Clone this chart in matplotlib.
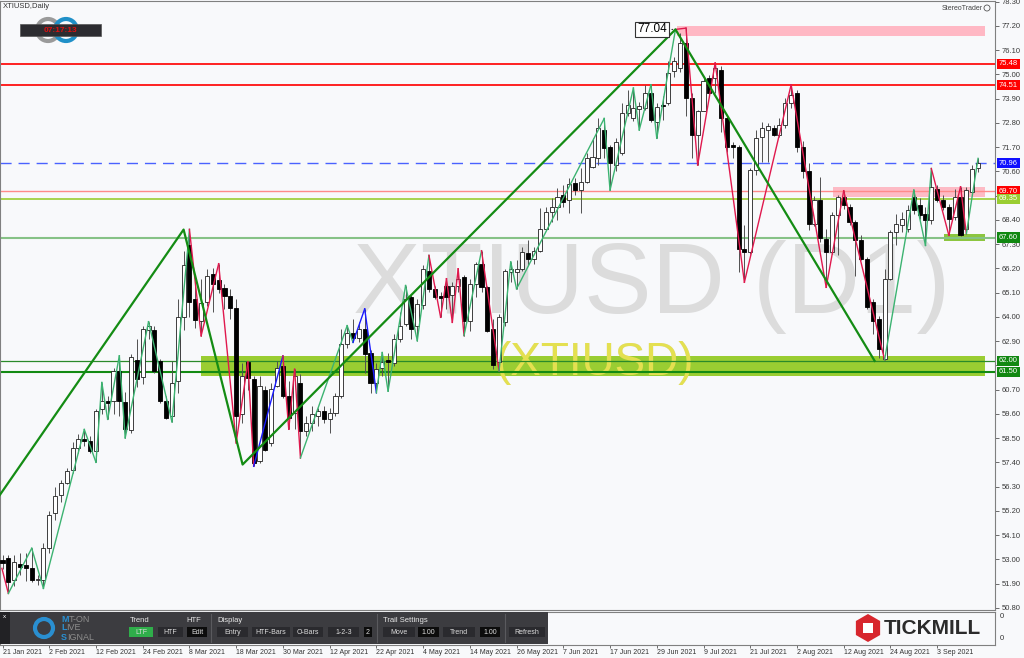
import numpy as np
import matplotlib.pyplot as plt
from matplotlib.patches import Rectangle, Circle, RegularPolygon

# daily OHLC, XTIUSD, 21 Jan 2021 .. mid Sep 2021
opens = [52.95, 53.05, 52.06, 52.80, 52.74, 52.59, 52.06, 52.06, 53.50, 55.10,
         55.93, 56.46, 57.07, 58.06, 58.44, 58.36, 57.90, 59.80, 60.20, 60.20,
         61.55, 60.14, 58.86, 62.05, 61.25, 63.40, 63.40, 62.00, 60.18, 59.50,
         61.10, 63.98, 67.24, 64.80, 63.82, 64.66, 65.95, 65.65, 65.30, 64.96,
         64.40, 59.57, 61.96, 61.17, 57.45, 60.70, 58.28, 60.86, 61.77, 60.40,
         59.65, 60.98, 58.81, 59.19, 59.50, 59.72, 59.35, 59.65, 60.40, 62.76,
         63.29, 63.06, 63.44, 62.38, 61.00, 61.70, 62.05, 61.92, 63.00, 63.68,
         64.90, 63.60, 64.52, 66.10, 65.27, 64.95, 65.42, 64.97, 65.42, 65.80,
         63.83, 65.50, 66.41, 65.35, 63.45, 61.93, 63.75, 66.05, 66.05, 66.19,
         66.91, 66.64, 66.97, 68.00, 68.76, 68.99, 69.52, 69.30, 70.06, 69.75,
         70.13, 70.80, 71.20, 72.49, 71.72, 70.89, 71.42, 73.24, 73.02, 73.45,
         73.48, 74.15, 72.86, 73.62, 73.70, 75.15, 75.29, 76.43, 73.93, 72.26,
         73.32, 74.84, 74.84, 75.22, 73.02, 71.80, 71.72, 67.09, 66.94, 70.66,
         72.18, 72.50, 72.56, 72.26, 72.71, 73.70, 74.15, 71.72, 70.60, 68.23,
         69.30, 67.54, 66.94, 68.60, 69.44, 68.99, 68.30, 67.47, 66.63, 64.66,
         63.90, 62.08, 65.72, 67.85, 68.15, 68.00, 69.44, 69.06, 68.68, 68.38,
         69.82, 69.29, 68.99, 68.53, 69.44, 68.00, 69.67, 70.75]
highs = [53.20, 53.20, 53.20, 53.30, 53.30, 53.50, 52.30, 53.73, 55.20, 56.30,
         56.60, 57.15, 58.30, 58.67, 58.89, 58.60, 59.83, 61.02, 60.40, 61.70,
         62.23, 60.60, 62.30, 63.00, 63.60, 63.78, 63.60, 62.10, 60.40, 62.00,
         64.80, 67.00, 67.97, 65.50, 65.70, 66.18, 66.20, 66.41, 65.50, 65.27,
         64.80, 61.90, 61.96, 61.30, 61.30, 60.86, 61.00, 62.00, 62.23, 61.10,
         61.62, 61.40, 59.50, 59.95, 59.87, 59.95, 59.87, 60.56, 63.44, 63.60,
         63.90, 63.75, 64.36, 62.50, 61.92, 62.38, 62.38, 63.20, 64.20, 65.42,
         64.97, 64.82, 66.34, 66.79, 65.42, 65.12, 65.73, 65.57, 66.18, 65.88,
         65.73, 66.49, 67.00, 65.40, 63.90, 64.14, 66.19, 66.49, 66.56, 67.17,
         67.47, 67.17, 68.92, 68.99, 69.37, 69.83, 69.98, 70.28, 70.28, 70.74,
         71.42, 72.10, 73.00, 73.00, 71.80, 72.10, 73.70, 74.30, 74.38, 73.77,
         74.53, 74.53, 73.70, 74.00, 75.60, 75.80, 76.90, 77.10, 74.15, 73.40,
         74.84, 74.99, 75.52, 75.37, 73.17, 71.95, 71.80, 68.15, 70.74, 72.48,
         72.86, 72.79, 72.71, 73.02, 73.93, 74.53, 74.30, 72.00, 71.00, 69.50,
         70.35, 68.00, 68.75, 69.52, 69.72, 69.14, 68.38, 67.70, 66.70, 64.81,
         64.05, 66.18, 67.93, 68.68, 68.76, 69.06, 69.75, 69.37, 68.99, 70.73,
         69.98, 69.52, 69.14, 69.82, 69.90, 69.90, 70.88, 71.19]
lows = [52.55, 51.45, 51.80, 52.30, 52.00, 51.95, 51.83, 51.68, 53.30, 54.80,
        55.60, 56.40, 56.90, 57.83, 58.13, 57.83, 57.40, 59.60, 59.35, 59.58,
        59.50, 58.51, 58.75, 60.80, 60.95, 63.00, 61.47, 60.10, 59.35, 59.24,
        60.56, 63.40, 64.00, 63.50, 63.14, 64.50, 64.20, 65.10, 64.35, 63.90,
        58.28, 59.20, 60.70, 57.22, 57.37, 57.90, 58.13, 60.80, 60.30, 58.90,
        58.90, 57.60, 58.60, 58.80, 59.04, 59.20, 58.74, 59.50, 60.33, 62.60,
        62.84, 62.84, 61.47, 60.56, 60.56, 61.32, 60.63, 61.77, 62.84, 63.60,
        63.00, 62.92, 64.36, 65.12, 64.82, 63.98, 64.36, 63.75, 65.12, 63.15,
        63.37, 64.90, 65.12, 63.30, 61.63, 61.55, 63.60, 65.57, 65.27, 66.10,
        66.34, 66.40, 66.94, 67.93, 68.30, 68.38, 68.99, 68.69, 69.52, 68.69,
        70.06, 70.74, 70.90, 71.19, 69.75, 70.60, 71.34, 73.10, 72.90, 72.48,
        73.40, 72.86, 72.10, 72.94, 73.62, 74.90, 75.10, 73.10, 71.19, 70.89,
        73.32, 74.07, 74.15, 72.40, 71.49, 71.19, 66.03, 65.57, 66.87, 70.43,
        71.04, 71.04, 72.20, 72.18, 72.56, 73.48, 71.49, 70.30, 67.95, 68.10,
        67.40, 65.34, 66.87, 66.80, 68.90, 68.15, 65.87, 66.56, 64.36, 63.20,
        62.15, 62.05, 65.65, 67.24, 67.85, 67.85, 68.68, 68.46, 67.24, 68.23,
        69.20, 68.83, 67.70, 68.38, 67.65, 67.77, 69.52, 70.58]
closes = [52.85, 51.98, 52.90, 52.67, 52.59, 52.06, 52.12, 53.50, 55.02, 55.85,
          56.46, 56.99, 58.06, 58.44, 58.36, 57.90, 59.73, 60.20, 60.10, 61.55,
          60.20, 58.90, 62.16, 61.20, 63.45, 63.60, 61.55, 60.18, 59.40, 61.00,
          63.98, 66.33, 64.66, 63.85, 64.63, 65.87, 65.50, 65.27, 64.96, 64.39,
          59.50, 61.32, 61.24, 57.37, 60.86, 57.98, 60.71, 61.70, 60.40, 59.42,
          61.32, 58.81, 59.20, 59.57, 59.72, 59.35, 59.65, 60.40, 62.76, 63.29,
          63.06, 63.44, 62.30, 61.00, 61.62, 61.93, 61.95, 62.99, 63.60, 64.82,
          63.45, 64.60, 66.19, 65.27, 64.90, 64.87, 64.90, 65.42, 65.73, 63.83,
          65.50, 66.41, 65.35, 63.37, 61.80, 63.98, 66.10, 66.15, 66.19, 66.95,
          66.64, 66.97, 68.00, 68.76, 68.99, 69.45, 69.22, 70.01, 69.75, 70.13,
          71.20, 71.27, 72.56, 71.65, 70.96, 71.95, 73.24, 73.62, 73.47, 73.55,
          74.15, 72.94, 73.54, 73.55, 75.06, 75.60, 76.43, 73.93, 72.26, 73.32,
          74.68, 74.15, 75.29, 73.02, 71.72, 71.72, 67.09, 66.94, 70.66, 72.10,
          72.56, 72.64, 72.26, 72.71, 73.70, 74.08, 71.72, 70.60, 68.23, 69.29,
          67.60, 66.94, 68.60, 69.44, 69.06, 68.30, 67.47, 66.63, 64.43, 63.82,
          62.53, 65.72, 67.85, 68.23, 68.46, 68.83, 68.83, 68.60, 68.38, 69.90,
          69.29, 68.99, 68.46, 69.44, 67.70, 69.75, 70.73, 70.96]

date_labels = ['21 Jan 2021', '2 Feb 2021', '12 Feb 2021', '24 Feb 2021', '8 Mar 2021',
               '18 Mar 2021', '30 Mar 2021', '12 Apr 2021', '22 Apr 2021', '4 May 2021',
               '14 May 2021', '26 May 2021', '7 Jun 2021', '17 Jun 2021', '29 Jun 2021',
               '9 Jul 2021', '21 Jul 2021', '2 Aug 2021', '12 Aug 2021', '24 Aug 2021',
               '3 Sep 2021']
date_bars = [0, 8, 16, 24, 32, 40, 48, 56, 64, 72, 80, 88, 96, 104, 112,
             120, 128, 136, 144, 152, 160]

price_ticks = [78.30, 77.20, 76.10, 75.00, 73.90, 72.80, 71.70, 70.60, 69.50, 68.40,
               67.30, 66.20, 65.10, 64.00, 62.90, 61.80, 60.70, 59.60, 58.50, 57.40,
               56.30, 55.20, 54.10, 53.00, 51.90, 50.80]

# big (higher timeframe) zigzag
big_zz_bars = [-5, 31, 41.1, 115.2, 149.3]
big_zz_price = [54.18, 67.96, 57.30, 77.04, 62.00]

# small zigzag: bar, price, colour of the leg ending there
zz_bars = [-0.1, 1, 5, 7, 14, 16, 17, 18, 20, 21, 25, 29, 32, 34, 37, 40, 42, 43, 48, 49,
           50, 51, 59, 60, 62, 64, 65, 66, 69, 71, 73, 75, 76, 77, 78, 79, 82, 85, 87, 88,
           103, 104, 108, 109, 111, 112, 115.2, 117, 119, 122, 127, 135, 141, 144, 151, 156,
           158, 159, 162, 164, 165, 167]
zz_price = [52.59, 51.45, 53.50, 51.68, 58.89, 57.40, 61.02, 59.35, 62.23, 58.51, 63.78, 59.24,
            67.97, 63.14, 66.41, 58.28, 61.96, 57.22, 62.23, 58.90, 61.62, 57.60, 63.60, 62.84,
            64.36, 60.56, 62.38, 60.63, 65.42, 62.92, 66.79, 63.98, 65.73, 63.75, 66.18, 63.15,
            67.00, 61.55, 66.49, 65.27, 73.00, 69.75, 74.38, 72.48, 74.53, 72.10, 77.04, 77.10,
            70.89, 75.52, 65.57, 74.53, 65.34, 69.72, 62.05, 69.75, 67.24, 70.73, 67.70, 69.90,
            67.77, 71.19]
zz_legs = ['', 'r', 'g', 'g', 'g', 'g', 'g', 'g', 'g', 'g', 'g', 'g', 'g', 'r', 'r', 'r', 'r', 'r',
           'b', 'r', 'r', 'r', 'g', 'g', 'b', 'b', 'g', 'g', 'g', 'g', 'g', 'r', 'r', 'r', 'r', 'r',
           'g', 'r', 'g', 'g', 'g', 'g', 'g', 'g', 'g', 'g', 'g', 'r', 'r', 'r', 'r', 'r', 'r', 'r',
           'r', 'g', 'g', 'g', 'r', 'r', 'r', 'g']

BG = '#f8f9fb'
W, H = 1024, 658
fig = plt.figure(figsize=(W / 100, H / 100), dpi=100, facecolor=BG)
plt.rcParams['font.family'] = ['Liberation Sans', 'DejaVu Sans']

ax = fig.add_axes([0, 1 - 610 / H, 995 / W, 609 / H], facecolor=BG)
x = np.arange(len(closes))
o = np.array(opens); c = np.array(closes); hi = np.array(highs); lo = np.array(lows)
ax.set_xlim(-0.43, 169.9)
ax.set_ylim(50.70, 78.33)

# watermark
ax.text(0.655, 0.53, 'XTIUSD (D1)', transform=ax.transAxes, fontsize=73, color='#dcdcdc',
        ha='center', va='center', zorder=0)
ax.text(0.597, 0.405, '(XTIUSD)', transform=ax.transAxes, fontsize=33, color='#dcdcdc',
        ha='center', va='center', zorder=0)

# zones
ax.add_patch(Rectangle((115.5, 76.72), 168.2 - 115.5, 0.48, fc='#ffb8c4', ec='none', zorder=1))
ax.add_patch(Rectangle((142.2, 69.45), 168.2 - 142.2, 0.45, fc='#ffb0bc', ec='none', alpha=0.85, zorder=1))
green_zone = Rectangle((34.0, 61.32), 168.2 - 34.0, 0.91, fc='#9acd32', ec='none', zorder=1)
ax.add_patch(green_zone)
ax.add_patch(Rectangle((161.2, 67.45), 168.2 - 161.2, 0.33, fc='#8cc63f', ec='none', zorder=1))
wm = ax.text(0.597, 0.405, '(XTIUSD)', transform=ax.transAxes, fontsize=33, color='#e4e050',
             ha='center', va='center', zorder=1.1)
wm.set_clip_path(green_zone)

# levels
ax.axhline(75.48, color='#ff1010', lw=1.3, zorder=2)
ax.axhline(74.51, color='#ff1010', lw=1.3, zorder=2)
ax.axhline(70.96, color='#4a62ff', lw=1.0, ls=(0, (8, 5)), zorder=2)
ax.axhline(69.70, color='#ff8a8a', lw=1.0, zorder=2)
ax.axhline(69.35, color='#9acd32', lw=1.2, zorder=2)
ax.axhline(67.60, color='#86c286', lw=1.5, zorder=2)
ax.axhline(62.00, color='#2a8a2a', lw=0.9, zorder=2)
ax.axhline(61.50, color='#138a13', lw=1.5, zorder=2)

# candles
ax.vlines(x, lo, hi, color='#505050', lw=0.7, zorder=3)
up = c >= o
body_lo = np.minimum(o, c)
body_h = np.maximum(np.abs(c - o), 0.04)
ax.bar(x[up], body_h[up], bottom=body_lo[up], width=0.7, color='white', edgecolor='#202020',
       lw=0.6, zorder=4)
ax.bar(x[~up], body_h[~up], bottom=body_lo[~up], width=0.7, color='black', edgecolor='black',
       lw=0.6, zorder=4)

# zigzags
cols = {'r': '#e0194e', 'g': '#3cb371', 'b': '#1a1aff'}
for i in range(1, len(zz_bars)):
    ax.plot(zz_bars[i - 1:i + 1], zz_price[i - 1:i + 1], color=cols[zz_legs[i]], lw=1.0, zorder=5)
ax.plot(big_zz_bars, big_zz_price, color='#148c14', lw=1.6, zorder=6)
ax.annotate('77.04', xy=(115.2, 77.04), xytext=(111.2, 77.04), fontsize=8.5, ha='center',
            va='center', zorder=7,
            bbox=dict(boxstyle='square,pad=0.15', fc='white', ec='#333333', lw=0.8),
            arrowprops=dict(arrowstyle='-', color='#333333', lw=0.8))

# right price scale (labels under the coloured tags are hidden, as in the terminal)
hidden = [69.50, 61.80]
ax.yaxis.tick_right()
ax.set_yticks(price_ticks)
ax.set_yticklabels(['' if v in hidden else f'{v:.2f}' for v in price_ticks])
ax.tick_params(axis='y', length=3, width=0.6, color='#555555', labelsize=5.5,
               labelcolor='#3a3a3a', pad=2)
ax.set_xticks([])
for s in ax.spines.values():
    s.set_color('#808080'); s.set_linewidth(0.8)

tags = [(75.48, '#ff0000', 'white'), (74.51, '#ff0000', 'white'), (70.96, '#1010ff', 'white'),
        (69.70, '#ff0000', 'white'), (69.35, '#9acd32', 'white'), (67.60, '#118811', 'white'),
        (62.00, '#118811', 'white'), (61.50, '#118811', 'white')]
for val, fc, tc in tags:
    ax.text(1.004, val, f'{val:.2f}', transform=ax.get_yaxis_transform(), fontsize=5.5,
            color=tc, ha='left', va='center', zorder=8, clip_on=False,
            bbox=dict(boxstyle='square,pad=0.2', fc=fc, ec='none'))

# indicator sub-window with the date scale
ax2 = fig.add_axes([0, 1 - 645 / H, 995 / W, 33 / H], facecolor=BG)
ax2.set_xlim(-0.43, 169.9)
ax2.set_ylim(0, 1)
ax2.set_yticks([])
ax2.set_xticks(date_bars)
ax2.set_xticklabels(date_labels)
ax2.tick_params(axis='x', length=2, width=0.6, color='#555555', labelsize=5, labelcolor='#333333', pad=1)
for lab in ax2.get_xticklabels():
    lab.set_ha('left')
for s in ax2.spines.values():
    s.set_color('#808080'); s.set_linewidth(0.8)

# overlay in pixel coordinates
ov = fig.add_axes([0, 0, 1, 1], zorder=10)
ov.set_xlim(0, W); ov.set_ylim(H, 0); ov.axis('off'); ov.patch.set_alpha(0)

ov.text(3, 7, 'XTIUSD,Daily', fontsize=5.5, color='#333333', va='center')
ov.text(942, 8, 'StereoTrader', fontsize=5, color='#444444', va='center')
ov.add_patch(Circle((987, 8), 3, fill=False, ec='#555555', lw=0.6))
for cx, col in [(48, '#9a9a9a'), (66, '#2090c8')]:
    ov.add_patch(Circle((cx, 30), 11, fill=False, ec=col, lw=3))
ov.add_patch(Rectangle((20, 24), 81, 12, fc='#2c2c30', ec='#555555', lw=0.5))
ov.text(60, 30.5, '07:17:13', fontsize=6, color='#e01010', ha='center', va='center', weight='bold')

# toolbar
ov.add_patch(Rectangle((0, 612), 548, 32, fc='#3c3c40', ec='none'))
ov.add_patch(Rectangle((0, 612), 10, 32, fc='#222225', ec='none'))
ov.text(3, 616, 'x', fontsize=4.5, color='white', va='center')
ov.add_patch(Circle((44, 628), 9, fill=False, ec='#2a8fd0', lw=3))
ov.text(61, 620, 'M', fontsize=6.5, color='#2a8fd0', va='center', weight='bold')
ov.text(69, 620, 'T-ON', fontsize=6.5, color='#8c8c8c', va='center')
ov.text(61, 628, 'L', fontsize=6.5, color='#2a8fd0', va='center', weight='bold')
ov.text(66, 628, 'IVE', fontsize=6.5, color='#8c8c8c', va='center')
ov.text(61, 637, 'S', fontsize=6.5, color='#2a8fd0', va='center', weight='bold')
ov.text(67, 637, 'IGNAL', fontsize=6.5, color='#8c8c8c', va='center')
for tx, t in [(130, 'Trend'), (186, 'HTF'), (217, 'Display'), (383, 'Trail Settings')]:
    ov.text(tx, 620, t, fontsize=5.5, color='#e8e8e8', va='center')
buttons = [(129, 24, 'LTF', '#2fae4a'), (158, 25, 'HTF', '#2a2a2e'), (187, 20, 'Edit', '#0c0c0c'),
           (217, 31, 'Entry', '#2a2a2e'), (252, 38, 'HTF-Bars', '#2a2a2e'), (293, 30, 'O-Bars', '#2a2a2e'),
           (328, 31, '1-2-3', '#2a2a2e'), (364, 8, '2', '#0c0c0c'), (383, 32, 'Move', '#2a2a2e'),
           (418, 21, '1.00', '#0c0c0c'), (443, 32, 'Trend', '#2a2a2e'), (480, 20, '1.00', '#0c0c0c'),
           (509, 36, 'Refresh', '#2a2a2e')]
for bx, bw, t, fc in buttons:
    ov.add_patch(Rectangle((bx, 627), bw, 10, fc=fc, ec='none'))
    ov.text(bx + bw / 2, 632, t, fontsize=5, color='#dcdcdc', ha='center', va='center')
for sx in [211, 377, 505]:
    ov.plot([sx, sx], [614, 642], color='#5a5a5e', lw=0.8)

# Tickmill logo
ov.add_patch(RegularPolygon((868, 628), 6, radius=14, orientation=0, fc='#d7262d', ec='none'))
ov.add_patch(RegularPolygon((868, 628), 4, radius=7, orientation=np.pi / 4, fc='white', ec='none'))
ov.text(884, 628.5, 'TICKMILL', fontsize=15, weight='bold', color='#2b2b2b', va='center')
ov.text(1000, 616, '0', fontsize=5.5, color='#333333', va='center')
ov.text(1000, 638, '0', fontsize=5.5, color='#333333', va='center')

fig.savefig('out.png', dpi=100, facecolor=BG)
